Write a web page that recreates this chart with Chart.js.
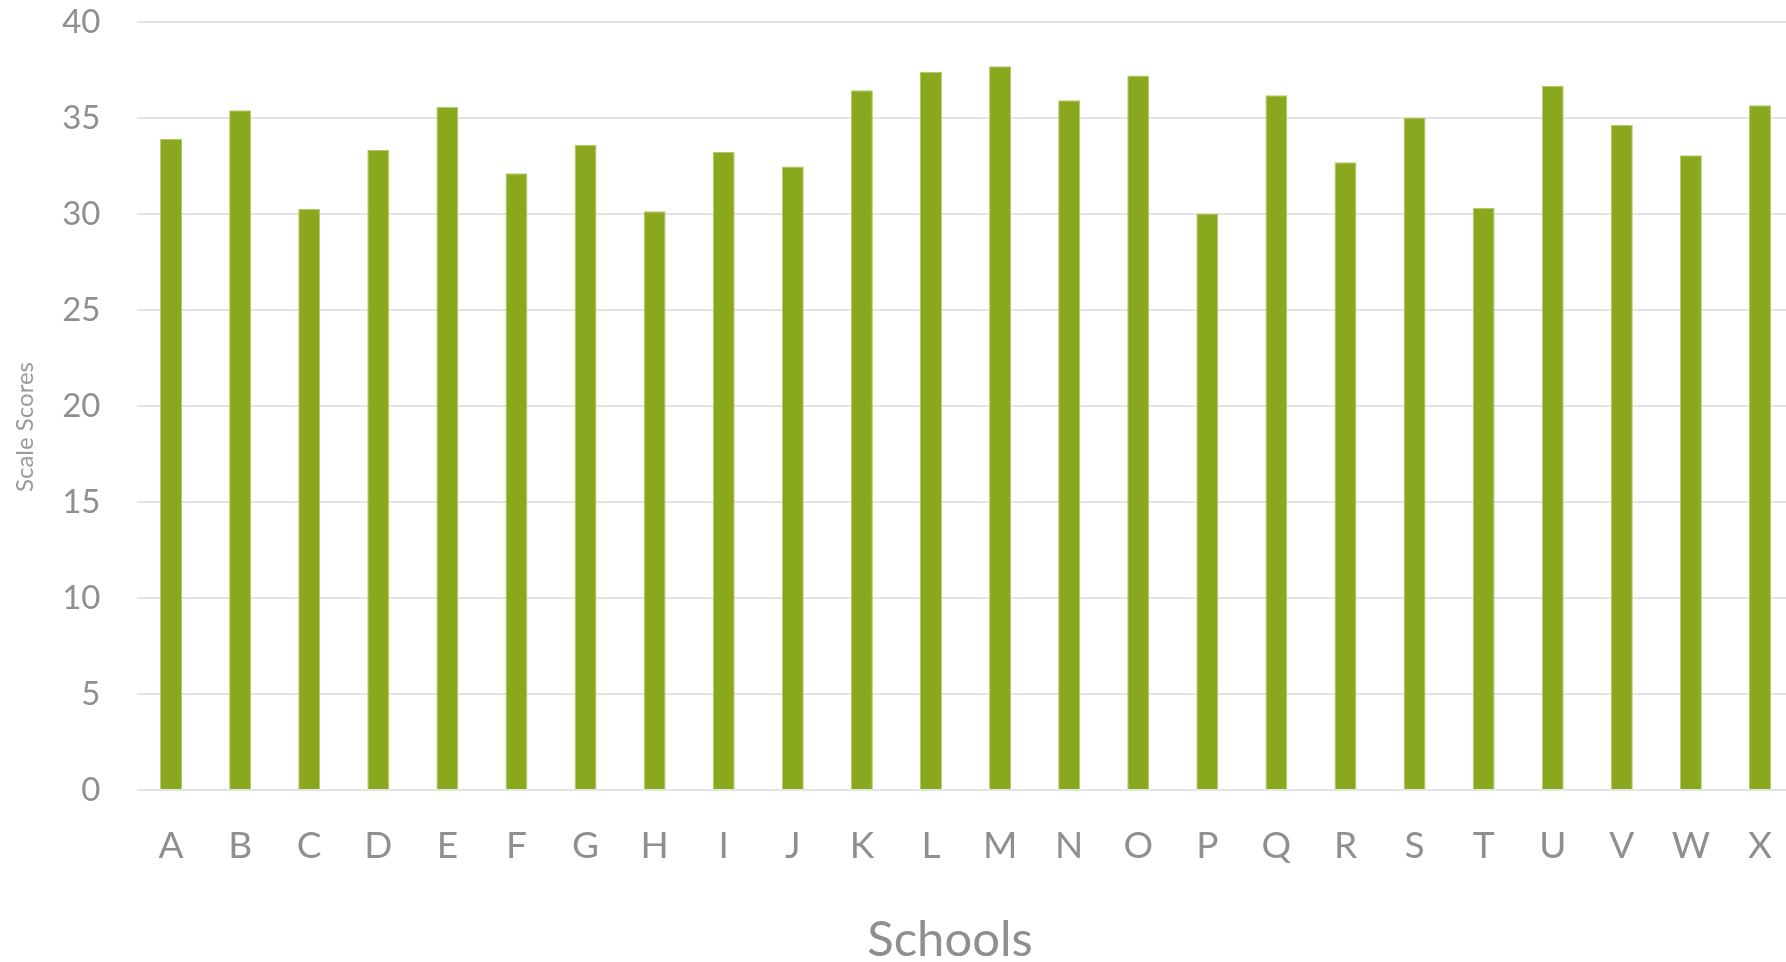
<!DOCTYPE html>
<html>
<head>
<meta charset="utf-8">
<script src="https://cdn.jsdelivr.net/npm/chart.js@4"></script>
<style>
    html, body { margin: 0; padding: 0; background: #fff; overflow: hidden; }
    #wrap { width: 1798px; height: 962px; position: relative; }
</style>
</head>
<body>
<div id="wrap"><canvas id="grafico"></canvas></div>
<script>
// Dados
const escolas = ['A', 'B', 'C', 'D', 'E', 'F', 'G', 'H', 'I', 'J', 'K', 'L',
                 'M', 'N', 'O', 'P', 'Q', 'R', 'S', 'T', 'U', 'V', 'W', 'X'];
const pontuacoes = [33.9, 35.4, 30.26, 33.33, 35.59, 32.12, 33.61, 30.14, 33.23, 32.48, 36.44, 37.41,
                    37.69, 35.92, 37.22, 30.03, 36.18, 32.69, 35.02, 30.33, 36.67, 34.64, 33.06, 35.66];
const eixoY = { min: 0, max: 40, passo: 5 };
const tituloX = 'Schools';
const tituloY = 'Scale Scores';

const cinza = '#8f8f8f';

// Títulos dos eixos desenhados à mão (o Excel não os centraliza na área do gráfico)
const titulosEixos = {
    id: 'titulosEixos',
    afterDraw(chart) {
        const c = chart.ctx;
        c.save();
        c.fillStyle = cinza;
        c.textAlign = 'center';
        c.textBaseline = 'middle';
        c.font = '49px Lato';
        c.fillText(tituloX, 950, 940);
        c.translate(25, 427);
        c.rotate(-Math.PI / 2);
        c.fillStyle = '#9a9a9a';
        c.font = '24px Lato';
        c.fillText(tituloY, 0, 0);
        c.restore();
    }
};

const ctx = document.getElementById('grafico').getContext('2d');
const grafico = new Chart(ctx, {
    type: 'bar',
    data: {
        labels: escolas,
        datasets: [{
            label: tituloY,
            data: pontuacoes,
            backgroundColor: '#8aa81e',
            borderColor: '#b3c966',
            borderWidth: 1,
            categoryPercentage: 1,
            barPercentage: 0.318
        }]
    },
    plugins: [titulosEixos],
    options: {
        responsive: true,
        maintainAspectRatio: false,
        animation: false,
        layout: { padding: { top: 22, left: 0, right: 0, bottom: 0 } },
        plugins: {
            legend: { display: false },
            tooltip: { enabled: false }
        },
        scales: {
            x: {
                grid: { display: false },
                border: { display: false },
                ticks: {
                    color: cinza,
                    font: { family: 'Lato', size: 37 },
                    padding: 26,
                    maxRotation: 0,
                    autoSkip: false
                },
                afterFit: function (s) { s.height = 172; }
            },
            y: {
                min: eixoY.min,
                max: eixoY.max,
                grid: { color: '#e4e4e4', lineWidth: 2, drawTicks: false },
                border: { display: false },
                ticks: {
                    stepSize: eixoY.passo,
                    color: cinza,
                    font: { family: 'Lato', size: 33 },
                    padding: 36
                },
                afterFit: function (s) {
                    s.width = 136.5;
                    s.paddingTop = 0;
                    s.paddingBottom = 0;
                }
            }
        }
    }
});
</script>
</body>
</html>
